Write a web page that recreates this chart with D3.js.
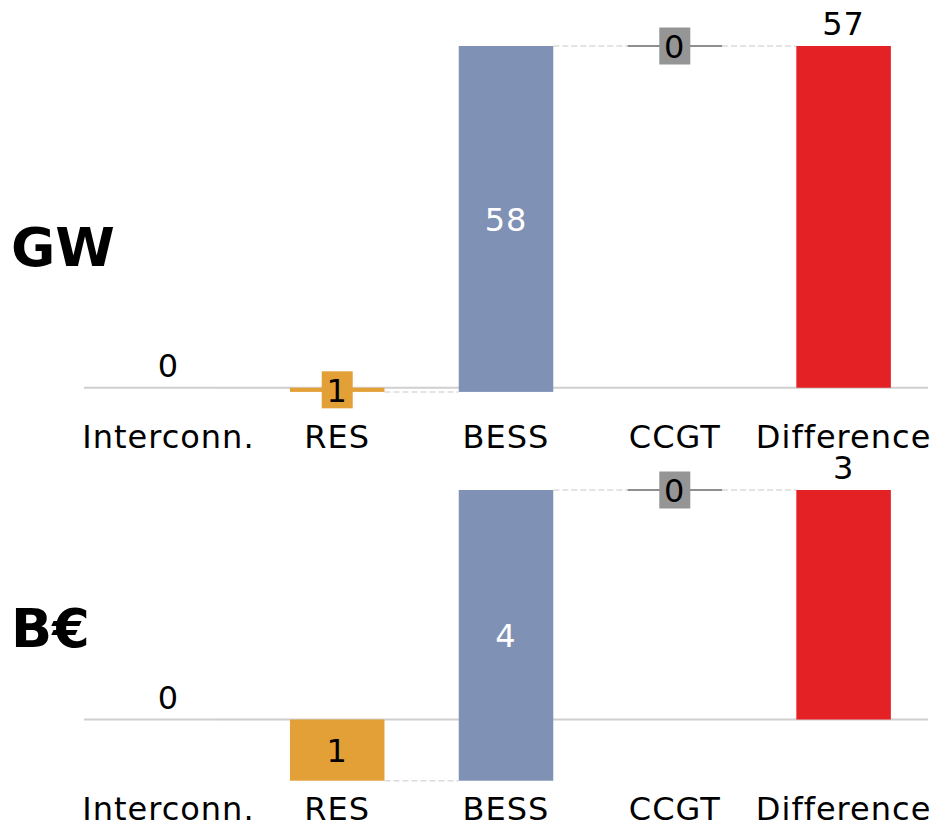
<!DOCTYPE html>
<html>
<head>
<meta charset="utf-8">
<script src="https://cdn.jsdelivr.net/npm/d3@7"></script>
<style>
  body { margin: 0; background: #fff; }
  text { font-family: "DejaVu Sans", Verdana, sans-serif; }
</style>
</head>
<body>
<svg id="chart" width="934" height="826"></svg>
<script>
// Waterfall steps: Interconn. is the starting level, the middle items are changes,
// Difference is the resulting total.
const categories = ["Interconn.", "RES", "BESS", "CCGT", "Difference"];
const gwValues   = [0, -0.7, 58.1, 0];   // GW
const eurValues  = [0, -0.8, 3.8, 0];    // billion euro
const unitLabels = ["GW", "B€"];

const barColors  = ["#cccccc", "#e3a037", "#7f91b4", "#8e8e8e", "#e42124"];
const boxColors  = ["#cccccc", "#e3a037", "#7f91b4", "#959595", "#e42124"];
const textColors = ["#000", "#000", "#fff", "#000", "#000"];

const svg = d3.select("#chart");

const x = d3.scaleBand()
  .domain(categories)
  .range([84, 928])
  .paddingInner(0.44)
  .paddingOuter(0.22);
const bw = x.bandwidth();

const panels = [
  { unit: unitLabels[0], values: gwValues,  yTop: 46,  yBottom: 391.9, catY: 448.3, unitY: 265.7 },
  { unit: unitLabels[1], values: eurValues, yTop: 490, yBottom: 780.7, catY: 820,   unitY: 646.7 }
];

const fmt = v => d3.format(".0f")(Math.abs(v));

panels.forEach(p => {
  const g = svg.append("g");

  let cum = 0;
  const steps = p.values.map((v, i) => {
    const start = cum;
    cum += v;
    return { i, cat: categories[i], value: v, from: start, to: cum, kind: i === 0 ? "start" : "delta" };
  });
  steps.push({ i: 4, cat: categories[4], value: cum, from: 0, to: cum, kind: "total" });

  const lo = d3.min(steps, d => Math.min(d.from, d.to));
  const hi = d3.max(steps, d => Math.max(d.from, d.to));
  const y = d3.scaleLinear().domain([lo, hi]).range([p.yBottom, p.yTop]);

  // connectors between consecutive steps
  g.selectAll("line.conn")
    .data(steps.slice(0, -1))
    .join("line")
    .attr("class", "conn")
    .attr("x1", d => x(d.cat) + bw)
    .attr("x2", d => x(categories[d.i + 1]))
    .attr("y1", d => y(d.to)).attr("y2", d => y(d.to))
    .attr("stroke", "#dcdcdc").attr("stroke-width", 1.5)
    .attr("stroke-dasharray", "6,3");

  // zero line
  g.append("line")
    .attr("x1", 84).attr("x2", 928)
    .attr("y1", y(0)).attr("y2", y(0))
    .attr("stroke", "#cfcfcf").attr("stroke-width", 2);

  // bars
  const nonZero = steps.filter(d => d.value !== 0);
  g.selectAll("rect.bar")
    .data(nonZero)
    .join("rect")
    .attr("class", "bar")
    .attr("x", d => x(d.cat))
    .attr("width", bw)
    .attr("y", d => y(Math.max(d.from, d.to)))
    .attr("height", d => Math.abs(y(d.from) - y(d.to)))
    .attr("fill", d => barColors[d.i]);

  // zero-size changes are drawn as a flat line
  g.selectAll("line.flat")
    .data(steps.filter(d => d.value === 0 && d.kind === "delta"))
    .join("line")
    .attr("class", "flat")
    .attr("x1", d => x(d.cat)).attr("x2", d => x(d.cat) + bw)
    .attr("y1", d => y(d.to)).attr("y2", d => y(d.to))
    .attr("stroke", d => barColors[d.i]).attr("stroke-width", 2);

  // value labels
  steps.forEach(d => {
    const cx = x(d.cat) + bw / 2;
    if (d.kind !== "delta") {
      g.append("text")
        .attr("x", cx).attr("y", y(Math.max(d.from, d.to)) - 11)
        .attr("text-anchor", "middle")
        .attr("font-size", 32).attr("letter-spacing", 1)
        .attr("fill", "#000")
        .text(fmt(d.value));
    } else {
      const cy = (y(d.from) + y(d.to)) / 2;
      const h = Math.abs(y(d.from) - y(d.to));
      if (h < 40) {
        g.append("rect")
          .attr("x", cx - 15.5).attr("y", cy - 18.5)
          .attr("width", 31).attr("height", 37)
          .attr("fill", boxColors[d.i]);
      }
      g.append("text")
        .attr("x", cx).attr("y", cy + 11.8)
        .attr("text-anchor", "middle")
        .attr("font-size", 32).attr("letter-spacing", 1)
        .attr("fill", h < 40 ? "#000" : textColors[d.i])
        .text(fmt(d.value));
    }
  });

  // category labels
  g.selectAll("text.cat")
    .data(categories)
    .join("text")
    .attr("class", "cat")
    .attr("x", d => x(d) + bw / 2)
    .attr("y", p.catY)
    .attr("text-anchor", "middle")
    .attr("font-size", 32).attr("letter-spacing", 1)
    .attr("fill", "#000")
    .text(d => d);

  // unit
  g.append("text")
    .attr("x", 11).attr("y", p.unitY)
    .attr("font-size", 54).attr("font-weight", "bold")
    .attr("fill", "#000")
    .text(p.unit);
});
</script>
</body>
</html>
